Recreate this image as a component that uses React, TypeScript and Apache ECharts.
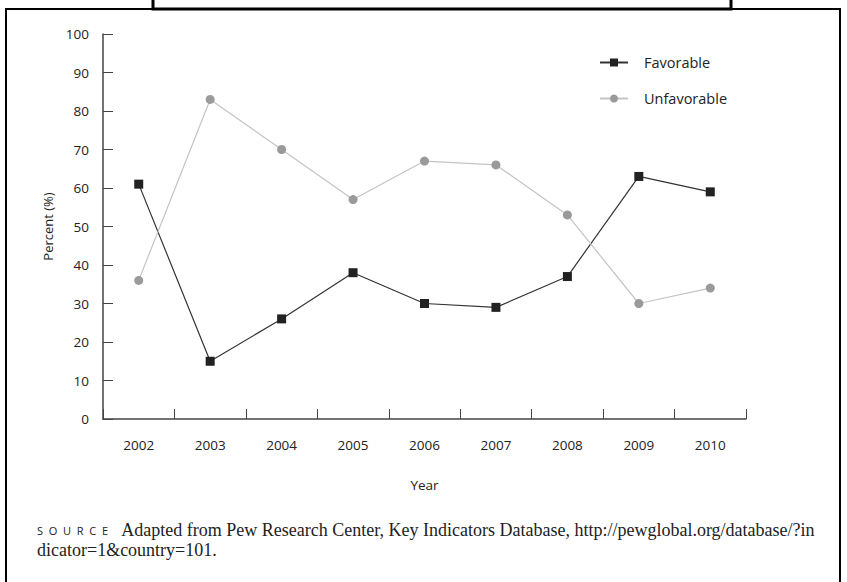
import React, { useEffect, useRef } from "react";
import * as echarts from "echarts";

const years = ["2002", "2003", "2004", "2005", "2006", "2007", "2008", "2009", "2010"];
const favorable = [61, 15, 26, 38, 30, 29, 37, 63, 59];
const unfavorable = [36, 83, 70, 57, 67, 66, 53, 30, 34];

const sans = "'Open Sans', 'DejaVu Sans', sans-serif";
const serif = "'Liberation Serif', 'DejaVu Serif', serif";

export default function App() {
  const ref = useRef<HTMLDivElement>(null);
  useEffect(() => {
    document.body.style.margin = "0";
    const chart = echarts.init(ref.current!, null, { renderer: "svg" });
    chart.setOption({
      animation: false,
      backgroundColor: "#ffffff",
      grid: { left: 103, right: 101, top: 34, bottom: 163 },
      legend: {
        orient: "vertical",
        left: 594,
        top: 50,
        itemWidth: 28,
        itemHeight: 10,
        itemGap: 21,
        textStyle: { fontFamily: sans, fontSize: 14.5, color: "#222", padding: [0, 0, 0, 11] },
        data: ["Favorable", "Unfavorable"],
      },
      xAxis: {
        type: "category",
        data: years,
        boundaryGap: true,
        name: "Year",
        nameLocation: "middle",
        nameGap: 59,
        nameTextStyle: { fontFamily: sans, fontSize: 13.5, color: "#222" },
        axisLine: { show: true, lineStyle: { color: "#444", width: 1.5 } },
        axisTick: { show: true, inside: true, interval: 0, length: 10, lineStyle: { color: "#444", width: 1 } },
        axisLabel: { fontFamily: sans, fontSize: 13.5, color: "#222", margin: 19 },
        splitLine: { show: false },
      },
      yAxis: {
        type: "value",
        min: 0,
        max: 100,
        interval: 10,
        name: "Percent (%)",
        nameLocation: "middle",
        nameRotate: 90,
        nameGap: 47,
        nameTextStyle: { fontFamily: sans, fontSize: 13, color: "#222" },
        axisLine: { show: true, lineStyle: { color: "#444", width: 1.5 } },
        axisTick: { show: true, inside: true, length: 10, lineStyle: { color: "#444" } },
        axisLabel: { fontFamily: sans, fontSize: 13.5, color: "#222", margin: 14 },
        splitLine: { show: false },
      },
      series: [
        {
          name: "Favorable",
          type: "line",
          data: favorable,
          symbol: "rect",
          symbolSize: 9,
          itemStyle: { color: "#222" },
          lineStyle: { color: "#333", width: 1.2 },
        },
        {
          name: "Unfavorable",
          type: "line",
          data: unfavorable,
          symbol: "circle",
          symbolSize: 9,
          itemStyle: { color: "#9a9a9a" },
          lineStyle: { color: "#c4c4c4", width: 1.2 },
        },
      ],
      graphic: [
        {
          type: "rect",
          shape: { x: 6, y: 9, width: 834, height: 620 },
          style: { fill: "none", stroke: "#000", lineWidth: 2 },
          silent: true,
        },
        {
          type: "polyline",
          shape: { points: [[153, -2], [153, 9], [731, 9], [731, -2]] },
          style: { fill: "none", stroke: "#000", lineWidth: 3 },
          silent: true,
        },
        {
          type: "text",
          left: 37,
          top: 520,
          style: {
            text: "{a|S  O  U  R  C  E}    {b|Adapted from Pew Research Center, Key Indicators Database, http://pewglobal.org/database/?in}\n{b|dicator=1&country=101.}",
            lineHeight: 20,
            rich: {
              a: { fontFamily: sans, fontSize: 11, fill: "#222", lineHeight: 20 },
              b: { fontFamily: serif, fontSize: 18, fill: "#222", lineHeight: 20 },
            },
          },
        },
      ],
    });
    return () => chart.dispose();
  }, []);
  return <div ref={ref} style={{ position: "fixed", left: 0, top: 0, width: 847, height: 582 }} />;
}
